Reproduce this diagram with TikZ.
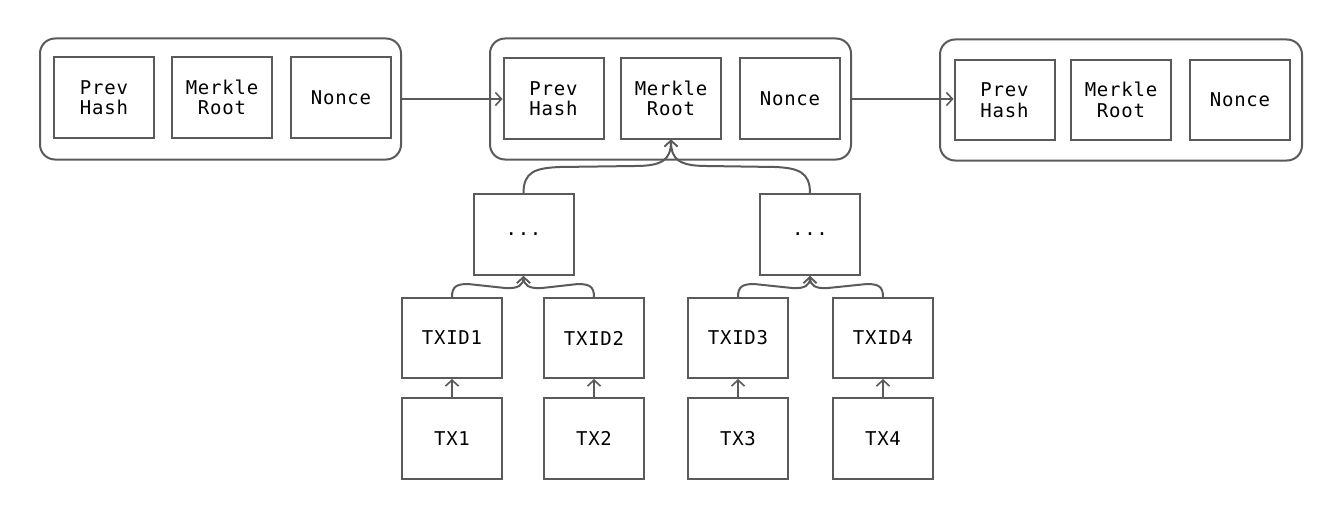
\documentclass[tikz,border=0pt]{standalone}
\usepackage{fontspec}
\newfontfamily\monofont[LetterSpace=4]{DejaVu Sans Mono}
\usetikzlibrary{arrows.meta,calc}
\definecolor{ln}{RGB}{90,90,90}
\begin{document}
\begin{tikzpicture}[x=1pt,y=-1pt,
  box/.style={draw=ln,line width=2pt,minimum width=100pt,minimum height=80pt,inner sep=0pt,align=center,
    font=\monofont\fontsize{19}{20.5}\selectfont,text=black},
  block/.style={draw=ln,line width=2pt,rounded corners=15pt,minimum width=361pt,minimum height=121pt,inner sep=0pt},
  arr/.style={draw=ln,line width=2pt,-{Straight Barb[length=6pt,width=13pt,line width=1.6pt]}}]
\useasboundingbox (0,0) rectangle (1342,519);
% blocks
\node[block] (b1) at (220.5,99) {};
\node[block] (b2) at (670.5,99) {};
\node[block,minimum width=362pt] (b3) at (1121,100) {};
\node[box] (p1) at (104,97.5) {Prev\\Hash};
\node[box] (m1) at (222,97.5) {Merkle\\Root};
\node[box] (n1) at (341,97.5) {Nonce};
\node[box] (p2) at (553.5,98.5) {Prev\\Hash};
\node[box] (m2) at (671,98.5) {Merkle\\Root};
\node[box] (n2) at (790,98.5) {Nonce};
\node[box] (p3) at (1004.5,100) {Prev\\Hash};
\node[box] (m3) at (1121,100) {Merkle\\Root};
\node[box] (n3) at (1240,100) {Nonce};
% tree
\node[box,minimum height=81pt] (dl) at (523.5,234.5) {...};
\node[box,minimum height=81pt] (dr) at (810,234.5) {...};
\node[box] (t1) at (452,338) {TXID1};
\node[box] (t2) at (594,338) {TXID2};
\node[box] (t3) at (738,338) {TXID3};
\node[box] (t4) at (883,338) {TXID4};
\node[box,minimum height=81pt] (x1) at (452,438.5) {TX1};
\node[box,minimum height=81pt] (x2) at (594,438.5) {TX2};
\node[box,minimum height=81pt] (x3) at (738,438.5) {TX3};
\node[box,minimum height=81pt] (x4) at (883,438.5) {TX4};
% chain arrows
\draw[arr] (b1.east) -- (b1.east -| p2.west);
\draw[arr] (b2.east) -- (b2.east -| p3.west);
% top curves
\draw[arr] (dl.north) .. controls (523.5,172) and (535,168) .. (560,167) -- (635,166)
  .. controls (662,166) and (671,160) .. (m2.south);
\draw[arr] (dr.north) .. controls (810,172) and (798,168) .. (775,167) -- (707,166)
  .. controls (680,166) and (671,160) .. (m2.south);
% lower curves
\draw[arr] (t1.north) .. controls (452,287) and (456,284) .. (468,284) -- (505,288)
  .. controls (518,289) and (523.5,285) .. (dl.south);
\draw[arr] (t2.north) .. controls (594,287) and (590,284) .. (578,284) -- (542,288)
  .. controls (529,289) and (523.5,285) .. (dl.south);
\draw[arr] (t3.north) .. controls (738,287) and (742,284) .. (754,284) -- (792,288)
  .. controls (805,289) and (810,285) .. (dr.south);
\draw[arr] (t4.north) .. controls (883,287) and (879,284) .. (867,284) -- (828,288)
  .. controls (815,289) and (810,285) .. (dr.south);
% tx arrows
\draw[arr] (x1.north) -- (t1.south);
\draw[arr] (x2.north) -- (t2.south);
\draw[arr] (x3.north) -- (t3.south);
\draw[arr] (x4.north) -- (t4.south);
\end{tikzpicture}
\end{document}
